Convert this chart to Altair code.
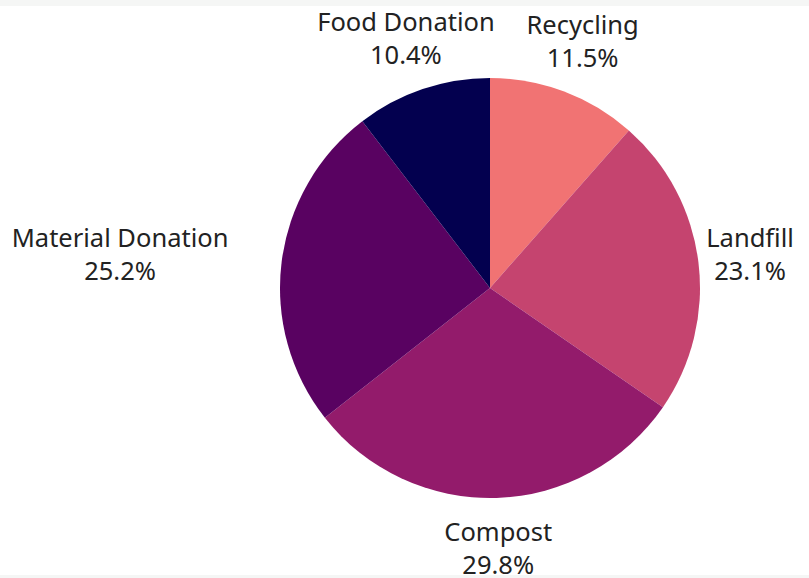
import altair as alt
import pandas as pd

categories = ["Recycling", "Landfill", "Compost", "Material Donation", "Food Donation"]
shares = [11.5, 23.1, 29.8, 25.2, 10.4]
colors = ["#f17373", "#c5446f", "#931b6b", "#590261", "#03004f"]

df = pd.DataFrame({
    "category": categories,
    "share": shares,
    "order": list(range(len(categories))),
})
df["label"] = df["category"] + "\n" + df["share"].map(lambda v: f"{v:.1f}%")

FONT = "Noto Sans"
SHIFTED = "Material Donation"

base = alt.Chart(df).encode(
    theta=alt.Theta("share:Q", stack=True),
    order=alt.Order("order:Q"),
)

pie = base.mark_arc(stroke=None).encode(
    color=alt.Color("category:N", scale=alt.Scale(domain=categories, range=colors), legend=None)
)

text_kw = dict(font=FONT, fontSize=25.5, color="#222222", baseline="middle",
               lineBreak="\n", lineHeight=33, dy=-16.5, align="center")

text_main = base.mark_text(**text_kw).encode(
    text=alt.condition(alt.datum.category != SHIFTED, alt.Text("label:N"), alt.value("")),
    radius=alt.value(262),
)

text_shifted = base.mark_text(dx=-110, **text_kw).encode(
    text=alt.condition(alt.datum.category == SHIFTED, alt.Text("label:N"), alt.value("")),
    radius=alt.value(262),
)

top_band = alt.Chart(df).mark_rect(color="#f5f6f5").encode(
    x=alt.value(-280), x2=alt.value(529), y=alt.value(-78), y2=alt.value(-72)
)
bottom_band = alt.Chart(df).mark_rect(color="#f5f6f5").encode(
    x=alt.value(-280), x2=alt.value(529), y=alt.value(497), y2=alt.value(500)
)

chart = alt.layer(top_band, bottom_band, pie, text_main, text_shifted).properties(
    width=420, height=420,
    autosize=alt.AutoSizeParams(type="none"),
    padding={"left": 280, "top": 78, "right": 109, "bottom": 80},
    background="white",
).configure_view(stroke=None)

chart.save("out.html", embed_options={"renderer": "svg", "actions": False})
